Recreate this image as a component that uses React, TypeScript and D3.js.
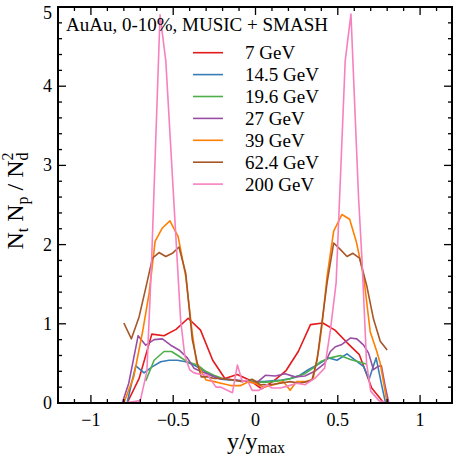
import React from "react";
import * as d3 from "d3";

type Pt = [number, number];

const energies = ["7 GeV", "14.5 GeV", "19.6 GeV", "27 GeV", "39 GeV", "62.4 GeV", "200 GeV"];
const colors = ["#e41a1c", "#377eb8", "#4daf4a", "#984ea3", "#ff7f00", "#a65628", "#f781bf"];

const s7: Pt[] = [
  [-0.86, 0], [-0.78, 0], [-0.707, 0.31], [-0.63, 0.87], [-0.556, 0.85], [-0.483, 0.93], [-0.409, 1.07],
  [-0.334, 0.92], [-0.26, 0.54], [-0.186, 0.31], [-0.111, 0.36], [-0.037, 0.29], [0.037, 0.18],
  [0.111, 0.28], [0.186, 0.41], [0.26, 0.65], [0.334, 0.99], [0.409, 1.01], [0.483, 0.92],
  [0.557, 0.76], [0.631, 0.61], [0.706, 0.19], [0.78, 0], [0.86, 0],
];
const s14: Pt[] = [
  [-0.78, 0], [-0.753, 0.25], [-0.727, 0.47], [-0.677, 0.38], [-0.626, 0.46], [-0.576, 0.52],
  [-0.525, 0.54], [-0.475, 0.54], [-0.424, 0.52], [-0.374, 0.48], [-0.323, 0.42], [-0.273, 0.35],
  [-0.21, 0.3], [-0.16, 0.29], [-0.1, 0.28], [-0.05, 0.28], [0, 0.27], [0.05, 0.27], [0.1, 0.28],
  [0.16, 0.29], [0.21, 0.31], [0.27, 0.35], [0.32, 0.42], [0.374, 0.48], [0.444, 0.57], [0.495, 0.54],
  [0.556, 0.62], [0.606, 0.54], [0.657, 0.46], [0.69, 0.3], [0.733, 0.57], [0.764, 0.25], [0.79, 0.0],
];
const s19: Pt[] = [
  [-0.667, 0.28], [-0.616, 0.54], [-0.556, 0.65], [-0.51, 0.65], [-0.465, 0.59], [-0.414, 0.52],
  [-0.353, 0.48], [-0.303, 0.4], [-0.253, 0.35], [-0.2, 0.31], [-0.15, 0.29], [-0.1, 0.28],
  [-0.05, 0.28], [0, 0.27], [0.05, 0.26], [0.1, 0.27], [0.15, 0.28], [0.2, 0.3], [0.25, 0.33],
  [0.3, 0.37], [0.35, 0.44], [0.394, 0.52], [0.455, 0.57], [0.515, 0.6], [0.576, 0.55], [0.626, 0.52],
  [0.677, 0.49],
];
const s27: Pt[] = [
  [-0.81, 0], [-0.77, 0.25], [-0.713, 0.85], [-0.667, 0.73], [-0.616, 0.8], [-0.566, 0.81],
  [-0.515, 0.73], [-0.465, 0.67], [-0.414, 0.57], [-0.374, 0.44], [-0.333, 0.4], [-0.27, 0.35],
  [-0.22, 0.31], [-0.17, 0.3], [-0.12, 0.29], [-0.07, 0.28], [-0.03, 0.26], [0.01, 0.26],
  [0.06, 0.35], [0.12, 0.34], [0.18, 0.37], [0.24, 0.33], [0.3, 0.34], [0.36, 0.4], [0.42, 0.5],
  [0.455, 0.65], [0.485, 0.71], [0.525, 0.74], [0.576, 0.82], [0.616, 0.81], [0.657, 0.73],
  [0.687, 0.63], [0.717, 0.42], [0.742, 0.46], [0.765, 0.47], [0.788, 0.21], [0.81, 0],
];
const s39: Pt[] = [
  [-0.8, 0], [-0.74, 0.33], [-0.687, 0.89], [-0.646, 1.39], [-0.61, 2.04], [-0.566, 2.21],
  [-0.52, 2.3], [-0.47, 2.1], [-0.424, 1.6], [-0.384, 0.88], [-0.357, 0.5], [-0.3, 0.29],
  [-0.25, 0.27], [-0.21, 0.25], [-0.15, 0.22], [-0.09, 0.22], [-0.04, 0.27], [0.01, 0.24],
  [0.05, 0.2], [0.11, 0.23], [0.17, 0.27], [0.21, 0.16], [0.25, 0.27], [0.31, 0.27], [0.35, 0.3],
  [0.384, 0.67], [0.404, 0.98], [0.435, 1.6], [0.475, 2.17], [0.525, 2.38], [0.572, 2.32],
  [0.612, 2.04], [0.657, 1.6], [0.697, 0.9], [0.737, 0.65], [0.758, 0.5], [0.8, 0],
];
const s62: Pt[] = [
  [-0.8, 1.01], [-0.754, 0.81], [-0.707, 1.09], [-0.667, 1.45], [-0.626, 1.83], [-0.586, 1.9],
  [-0.545, 1.85], [-0.505, 1.89], [-0.465, 1.97], [-0.424, 1.64], [-0.384, 0.8], [-0.353, 0.5],
  [-0.33, 0.33], [-0.29, 0.33], [-0.25, 0.31], [-0.21, 0.31], [-0.17, 0.3], [-0.13, 0.29],
  [-0.08, 0.27], [-0.02, 0.3], [0.03, 0.23], [0.09, 0.23], [0.15, 0.25], [0.21, 0.27], [0.27, 0.25],
  [0.31, 0.27], [0.343, 0.29], [0.374, 0.54], [0.435, 1.52], [0.475, 2.02], [0.515, 1.94],
  [0.556, 1.85], [0.592, 1.89], [0.632, 1.83], [0.677, 1.47], [0.717, 1.06], [0.758, 0.78],
  [0.8, 0.67],
];
const s200: Pt[] = [
  [-0.88, 0], [-0.8, 0], [-0.7, 0.03], [-0.66, 0.4], [-0.632, 1.75], [-0.58, 4.9], [-0.545, 4.32],
  [-0.455, 1.05], [-0.43, 0.6], [-0.4, 0.42], [-0.374, 0.38], [-0.33, 0.36], [-0.29, 0.35],
  [-0.24, 0.2], [-0.21, 0.2], [-0.14, 0.13], [-0.11, 0.48], [-0.08, 0.27], [-0.05, 0.29],
  [-0.02, 0.16], [0.02, 0.16], [0.07, 0.23], [0.1, 0.19], [0.15, 0.19], [0.19, 0.21], [0.25, 0.25],
  [0.3, 0.23], [0.36, 0.31], [0.42, 0.44], [0.455, 0.92], [0.49, 1.52], [0.545, 4.32], [0.58, 4.91],
  [0.626, 2.6], [0.647, 1.81], [0.675, 0.5], [0.7, 0.15], [0.75, 0.03], [0.8, 0], [0.88, 0],
];

const seriesList: Pt[][] = [s7, s14, s19, s27, s39, s62, s200];

const xTickLabels = ["\u22121", "\u22120.5", "0", "0.5", "1"];
const yTickLabels = ["0", "1", "2", "3", "4", "5"];

const W = 453;
const H = 455;
const L = 58, R = 452, T = 7, B = 403;
const TF = { fontFamily: "Liberation Serif" };

export default function App() {
  const x = d3.scaleLinear().domain([-1.2, 1.2]).range([L, R + 1]);
  const y = d3.scaleLinear().domain([0, 5]).range([B, T]);
  const line = d3.line<Pt>().x((d) => x(d[0])).y((d) => y(d[1]));

  const xMajor = x.ticks(5);
  const xMinor = x.ticks(24).filter((t) => !xMajor.some((m) => Math.abs(m - t) < 1e-6));
  const yMajor = y.ticks(5);
  const yMinor = y.ticks(25).filter((t) => !yMajor.some((m) => Math.abs(m - t) < 1e-6));

  const majL = 8, minL = 4;

  return (
    <svg width={W} height={H} style={{ position: "absolute", left: 0, top: 0, background: "#fff" }}>
      <defs>
        <clipPath id="plotclip">
          <rect x={L} y={T} width={R - L} height={B - T} />
        </clipPath>
      </defs>
      <g clipPath="url(#plotclip)">
        {seriesList.map((s, i) => (
          <path key={i} d={line(s) || ""} fill="none" stroke={colors[i]} strokeWidth={1.6}
            strokeLinejoin="round" />
        ))}
      </g>
      <g stroke="#000" strokeWidth={1.3}>
        {xMajor.map((t) => (
          <g key={"xm" + t}>
            <line x1={x(t)} x2={x(t)} y1={B} y2={B - majL} />
            <line x1={x(t)} x2={x(t)} y1={T} y2={T + majL} />
          </g>
        ))}
        {xMinor.map((t) => (
          <g key={"xn" + t}>
            <line x1={x(t)} x2={x(t)} y1={B} y2={B - minL} />
            <line x1={x(t)} x2={x(t)} y1={T} y2={T + minL} />
          </g>
        ))}
        {yMajor.map((t) => (
          <g key={"ym" + t}>
            <line x1={L} x2={L + majL} y1={y(t)} y2={y(t)} />
            <line x1={R} x2={R - majL} y1={y(t)} y2={y(t)} />
          </g>
        ))}
        {yMinor.map((t) => (
          <g key={"yn" + t}>
            <line x1={L} x2={L + minL} y1={y(t)} y2={y(t)} />
            <line x1={R} x2={R - minL} y1={y(t)} y2={y(t)} />
          </g>
        ))}
      </g>
      <rect x={L} y={T} width={R - L} height={B - T} fill="none" stroke="#000" strokeWidth={2} />
      {xMajor.map((t, i) => (
        <text key={"xl" + t} x={x(t)} y={426} fontSize={18} textAnchor="middle" style={TF}>{xTickLabels[i]}</text>
      ))}
      {yMajor.map((t, i) => (
        <text key={"yl" + t} x={52} y={Math.max(y(t) + 6, 19)} fontSize={18} textAnchor="end" style={TF}>{yTickLabels[i]}</text>
      ))}
      <text x={256} y={449} fontSize={24} textAnchor="middle" style={TF}>
        y/y<tspan fontSize={16} dy={4}>max</tspan>
      </text>
      <text transform="translate(23,201) rotate(-90)" fontSize={24} textAnchor="middle" style={TF}>
        N<tspan fontSize={16} dy={5}>t</tspan>
        <tspan dy={-5}> N</tspan><tspan fontSize={16} dy={5}>p</tspan>
        <tspan dy={-5}> / N</tspan><tspan fontSize={16} dy={5}>d</tspan>
        <tspan fontSize={16} dx={-8} dy={-15}>2</tspan>
      </text>
      <text x={66} y={31} fontSize={19} style={TF}>AuAu, 0-10%, MUSIC + SMASH</text>
      {energies.map((e, i) => {
        const ly = 52.7 + i * 21.9;
        return (
          <g key={e}>
            <line x1={193} x2={223} y1={ly} y2={ly} stroke={colors[i]} strokeWidth={1.6} />
            <text x={245} y={ly + 6.5} fontSize={19} style={TF}>{e}</text>
          </g>
        );
      })}
    </svg>
  );
}
